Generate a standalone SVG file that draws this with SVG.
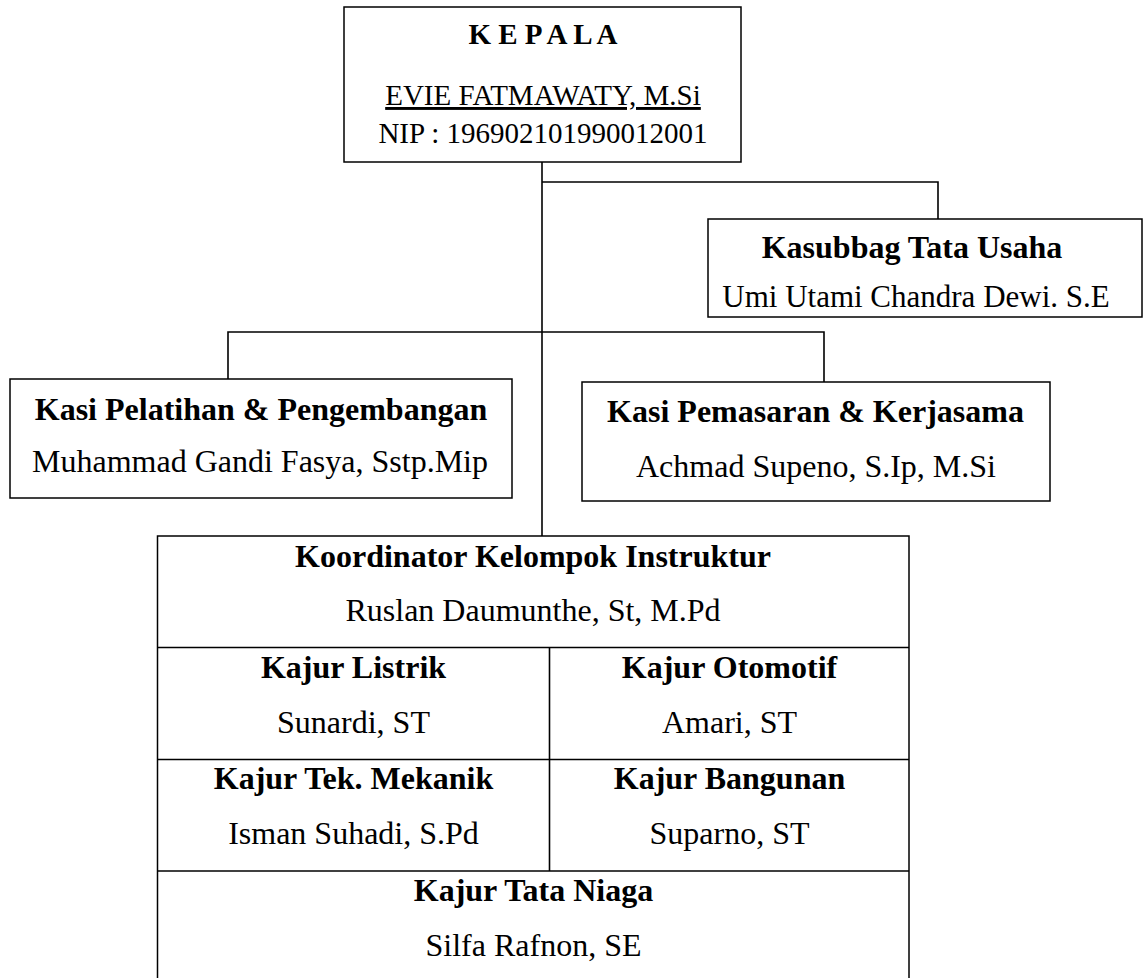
<svg xmlns="http://www.w3.org/2000/svg" width="1144" height="978" viewBox="0 0 1144 978">
<style>
.box{fill:#fff;stroke:#000;stroke-width:1.5}
.ln{fill:none;stroke:#000;stroke-width:1.6}
.t{font-family:"Liberation Serif","Times New Roman",serif;fill:#000;text-anchor:middle}
.b{font-weight:bold}
.s32{font-size:32px}
.s29{font-size:29px}
</style>
<rect width="1144" height="978" fill="#fff"/>
<g id="connectors">
<path class="ln" d="M542,162 V536"/>
<path class="ln" d="M542,182 H938 V219"/>
<path class="ln" d="M228,379 V332 H824 V382"/>
</g>
<g id="kepala">
<rect class="box" x="344" y="7" width="397" height="155"/>
<text class="t b s29" x="543" y="44">K E P A L A</text>
<text class="t s29" x="543" y="105" text-decoration="underline">EVIE FATMAWATY, M.Si</text>
<text class="t s29" x="543" y="143">NIP : 196902101990012001</text>
</g>
<g id="kasubbag">
<rect class="box" x="708" y="219" width="434" height="98"/>
<text class="t b s32" x="912" y="258">Kasubbag Tata Usaha</text>
<text class="t" style="font-size:31px" x="916" y="307">Umi Utami Chandra Dewi. S.E</text>
</g>
<g id="kasi-pelatihan">
<rect class="box" x="10" y="379" width="502" height="119"/>
<text class="t b s32" x="261" y="420">Kasi Pelatihan &amp; Pengembangan</text>
<text class="t s32" x="260" y="472">Muhammad Gandi Fasya, Sstp.Mip</text>
</g>
<g id="kasi-pemasaran">
<rect class="box" x="582" y="382" width="468" height="119"/>
<text class="t b s32" x="815.5" y="422">Kasi Pemasaran &amp; Kerjasama</text>
<text class="t s32" x="816" y="477">Achmad Supeno, S.Ip, M.Si</text>
</g>
<g id="koordinator">
<rect class="box" x="157.5" y="536" width="751.5" height="460"/>
<text class="t b s32" x="533" y="567">Koordinator Kelompok Instruktur</text>
<text class="t s32" x="533" y="621">Ruslan Daumunthe, St, M.Pd</text>
</g>
<g id="kajur-listrik">
<path class="ln" d="M157.5,647.5 H909"/>
<text class="t b s32" x="353.5" y="678">Kajur Listrik</text>
<text class="t s32" x="353.5" y="733">Sunardi, ST</text>
</g>
<g id="kajur-otomotif">
<path class="ln" d="M549.5,647.5 V871"/>
<text class="t b s32" x="729.5" y="678">Kajur Otomotif</text>
<text class="t s32" x="729.5" y="733">Amari, ST</text>
</g>
<g id="kajur-mekanik">
<path class="ln" d="M157.5,759.5 H909"/>
<text class="t b s32" x="353.5" y="789">Kajur Tek. Mekanik</text>
<text class="t s32" x="353.5" y="844">Isman Suhadi, S.Pd</text>
</g>
<g id="kajur-bangunan">
<text class="t b s32" x="729.5" y="789">Kajur Bangunan</text>
<text class="t s32" x="729.5" y="844">Suparno, ST</text>
</g>
<g id="kajur-tata-niaga">
<path class="ln" d="M157.5,871 H909"/>
<text class="t b s32" x="533.5" y="901">Kajur Tata Niaga</text>
<text class="t s32" x="533.5" y="956">Silfa Rafnon, SE</text>
</g>
</svg>
